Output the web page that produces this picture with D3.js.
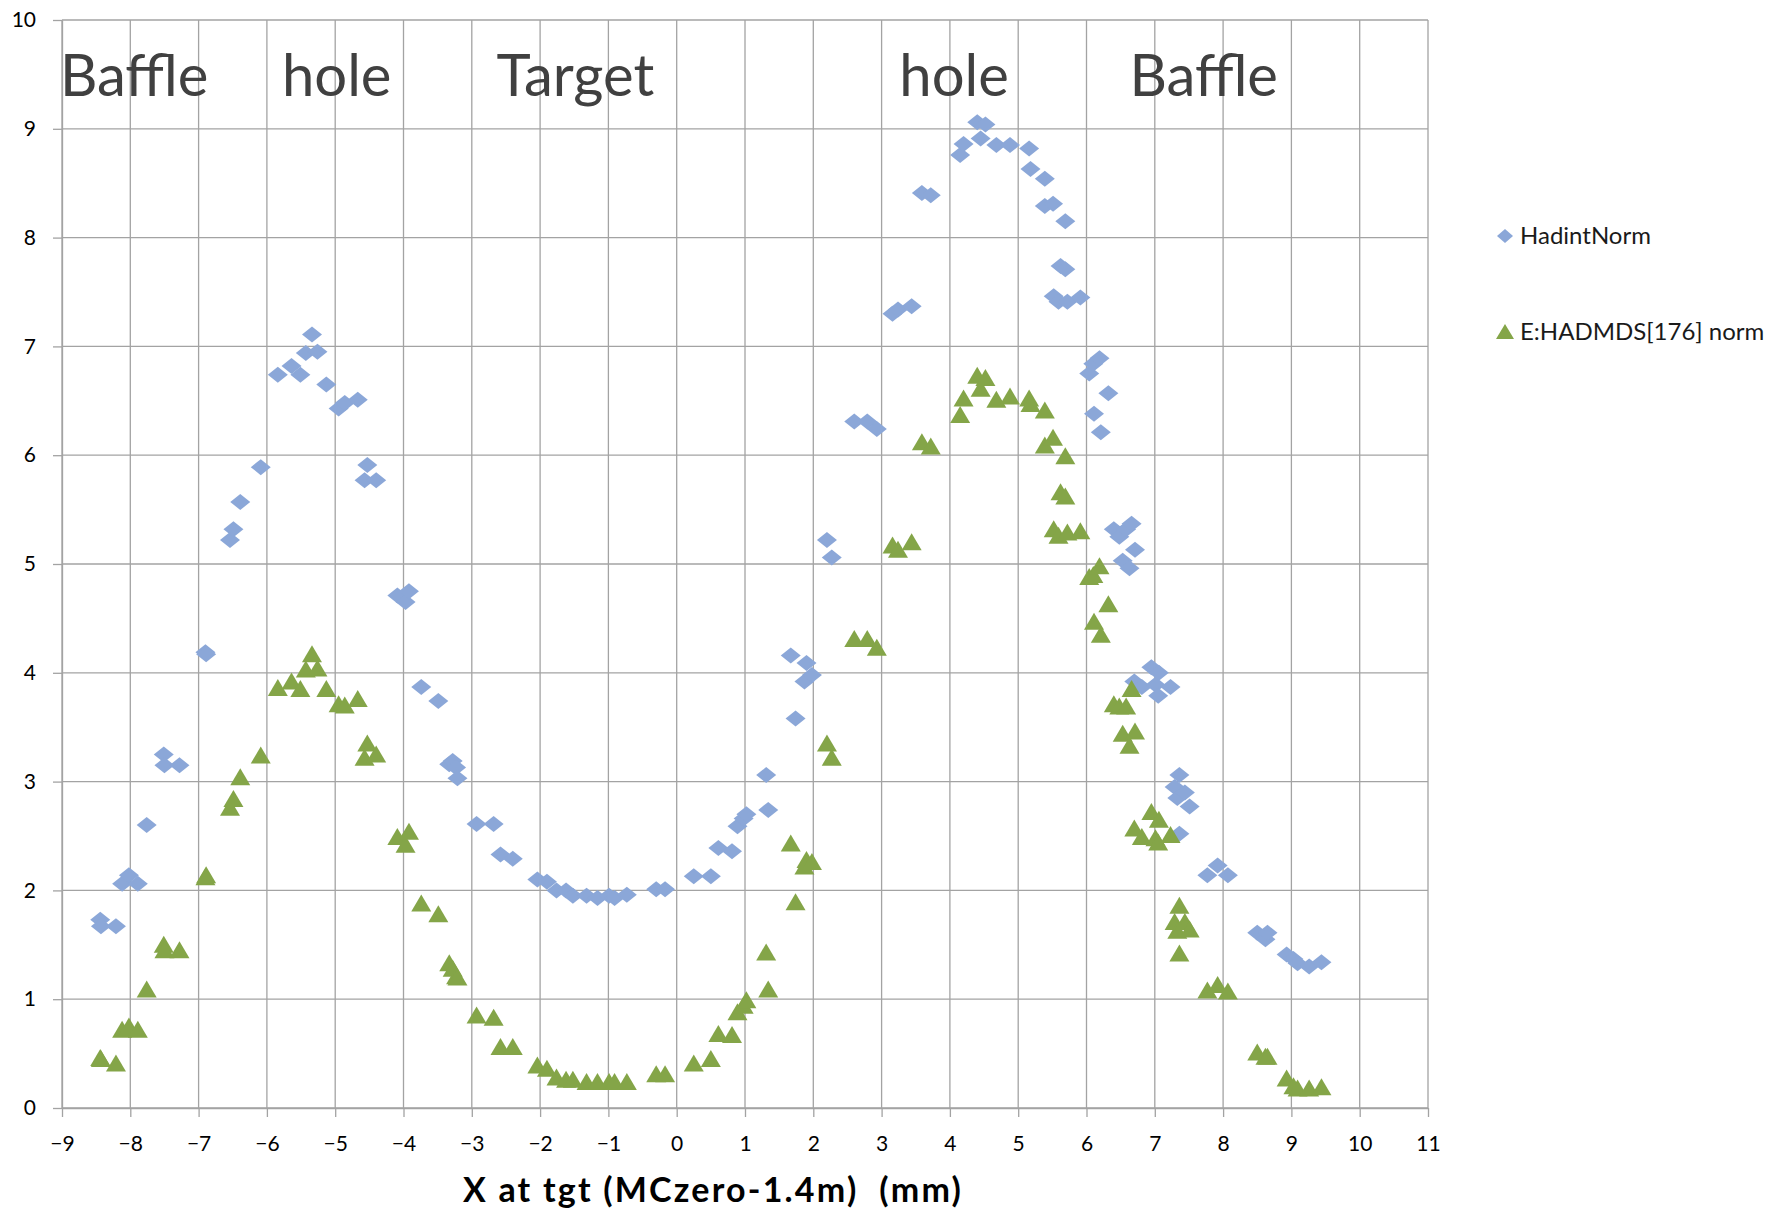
<!DOCTYPE html>
<html>
<head>
<meta charset="utf-8">
<script src="https://cdn.jsdelivr.net/npm/d3@7"></script>
<style>
  body { margin: 0; background: #fff; }
  svg { display: block; font-family: Lato, "Noto Sans", sans-serif; }
</style>
</head>
<body>
<svg id="chart"></svg>
<script>
// x position of each scan point (mm), shared by both series
const xPos = [
  -8.44, -8.43, -8.21, -8.12, -8.02, -7.89, -7.76, -7.51, -7.50, -7.28,
  -6.90, -6.89, -6.54, -6.49, -6.39, -6.09, -5.84, -5.64, -5.51, -5.43,
  -5.34, -5.26, -5.13, -4.95, -4.86, -4.67, -4.53, -4.57, -4.40, -4.09,
  -3.97, -3.92, -3.74, -3.49, -3.33, -3.28, -3.23, -3.21, -2.93, -2.68,
  -2.58, -2.40, -2.04, -1.90, -1.76, -1.62, -1.52, -1.32, -1.16, -0.99,
  -0.91, -0.73, -0.30, -0.17, 0.25, 0.50, 0.61, 0.81, 0.89, 0.98,
  1.02, 1.31, 1.34, 1.67, 1.74, 1.87, 1.90, 1.98, 2.20, 2.27,
  2.60, 2.79, 2.93, 3.16, 3.24, 3.44, 3.59, 3.72, 4.15, 4.20,
  4.40, 4.45, 4.52, 4.68, 4.88, 5.16, 5.18, 5.39, 5.39, 5.51,
  5.69, 5.52, 5.59, 5.62, 5.69, 5.72, 5.91, 6.04, 6.10, 6.19,
  6.11, 6.21, 6.32, 6.40, 6.48, 6.53, 6.58, 6.66, 6.63, 6.71,
  6.70, 6.81, 6.95, 7.01, 7.06, 7.05, 7.23, 7.36, 7.29, 7.33,
  7.36, 7.44, 7.51, 7.77, 7.92, 8.07, 8.50, 8.62, 8.65, 8.93,
  9.03, 9.09, 9.26, 9.44
]

const hadintNorm = [
  1.73, 1.67, 1.67, 2.06, 2.14, 2.06, 2.60, 3.25, 3.15, 3.15,
  4.19, 4.17, 5.22, 5.32, 5.57, 5.89, 6.74, 6.82, 6.74, 6.94,
  7.11, 6.95, 6.65, 6.43, 6.48, 6.51, 5.91, 5.77, 5.77, 4.71,
  4.65, 4.75, 3.87, 3.74, 3.16, 3.19, 3.13, 3.03, 2.61, 2.61,
  2.33, 2.29, 2.10, 2.08, 2.00, 2.00, 1.95, 1.95, 1.93, 1.95,
  1.93, 1.96, 2.01, 2.01, 2.13, 2.13, 2.39, 2.36, 2.59, 2.66,
  2.70, 3.06, 2.74, 4.16, 3.58, 3.92, 4.09, 3.98, 5.22, 5.06,
  6.31, 6.31, 6.24, 7.30, 7.34, 7.37, 8.41, 8.39, 8.76, 8.86,
  9.06, 8.91, 9.04, 8.85, 8.85, 8.82, 8.63, 8.54, 8.29, 8.31,
  8.15, 7.46, 7.41, 7.74, 7.71, 7.41, 7.45, 6.75, 6.84, 6.89,
  6.38, 6.21, 6.57, 5.32, 5.25, 5.03, 5.32, 5.37, 4.96, 5.13,
  3.92, 3.87, 4.05, 3.89, 4.00, 3.79, 3.87, 3.06, 2.95, 2.85,
  2.52, 2.90, 2.77, 2.14, 2.23, 2.14, 1.61, 1.55, 1.61, 1.41,
  1.37, 1.33, 1.30, 1.34
]

const hadmdsNorm = [
  0.46, 0.45, 0.41, 0.72, 0.75, 0.72, 1.09, 1.50, 1.45, 1.45,
  2.12, 2.14, 2.76, 2.84, 3.04, 3.24, 3.86, 3.92, 3.85, 4.03,
  4.17, 4.04, 3.85, 3.71, 3.70, 3.76, 3.35, 3.22, 3.25, 2.49,
  2.42, 2.54, 1.88, 1.78, 1.33, 1.28, 1.21, 1.20, 0.85, 0.83,
  0.56, 0.56, 0.39, 0.36, 0.28, 0.26, 0.26, 0.24, 0.24, 0.24,
  0.24, 0.24, 0.31, 0.31, 0.41, 0.45, 0.68, 0.67, 0.88, 0.94,
  0.99, 1.43, 1.09, 2.43, 1.89, 2.22, 2.28, 2.26, 3.35, 3.22,
  4.31, 4.31, 4.23, 5.17, 5.13, 5.20, 6.12, 6.08, 6.37, 6.52,
  6.73, 6.61, 6.71, 6.51, 6.54, 6.52, 6.47, 6.41, 6.09, 6.16,
  5.99, 5.32, 5.26, 5.66, 5.62, 5.29, 5.30, 4.88, 4.90, 4.98,
  4.47, 4.35, 4.63, 3.71, 3.69, 3.44, 3.69, 3.85, 3.33, 3.46,
  2.57, 2.49, 2.72, 2.48, 2.65, 2.44, 2.51, 1.86, 1.71, 1.63,
  1.42, 1.71, 1.64, 1.08, 1.13, 1.07, 0.51, 0.47, 0.47, 0.27,
  0.20, 0.18, 0.18, 0.19
]

const xTicks = d3.range(-9, 12)
const yTicks = d3.range(0, 11)

// region labels written across the top of the plot
const regionNames = ["Baffle", "hole", "Target", "hole", "Baffle"]
const regionStartX = [-9.03, -5.78, -2.64, 3.26, 6.63]
const regionY = 9.3

const seriesNames = ["HadintNorm", "E:HADMDS[176] norm"]
const xTitle = "X at tgt (MCzero-1.4m)  (mm)"

const W = 1768, H = 1211
const margin = {top: 20, right: 340, bottom: 103, left: 62}
const blue = "#8ba7d8", green = "#84a548", grid = "#a3a3a3"

const svg = d3.select("#chart").attr("width", W).attr("height", H)
svg.append("rect").attr("width", W).attr("height", H).attr("fill", "#fff")

const x = d3.scaleLinear().domain([-9, 11]).range([margin.left, W - margin.right])
const y = d3.scaleLinear().domain([0, 10]).range([H - margin.bottom, margin.top])

// grid lines
svg.append("g")
    .selectAll("line.v")
    .data(xTicks)
    .join("line")
      .attr("x1", d => x(d)).attr("x2", d => x(d))
      .attr("y1", y(10)).attr("y2", y(0))
      .attr("stroke", grid).attr("stroke-width", 1.3)
svg.append("g")
    .selectAll("line.h")
    .data(yTicks)
    .join("line")
      .attr("x1", x(-9)).attr("x2", x(11))
      .attr("y1", d => y(d)).attr("y2", d => y(d))
      .attr("stroke", grid).attr("stroke-width", 1.3)

// axes
const xAxis = svg.append("g")
    .attr("transform", `translate(0,${y(0)})`)
    .call(d3.axisBottom(x).tickValues(xTicks).tickSize(9).tickSizeOuter(0).tickPadding(19))
const yAxis = svg.append("g")
    .attr("transform", `translate(${x(-9)},0)`)
    .call(d3.axisLeft(y).tickValues(yTicks).tickSize(9).tickSizeOuter(0).tickPadding(17))

for (const ax of [xAxis, yAxis]) {
    ax.select(".domain").attr("stroke", grid).attr("stroke-width", 1.3)
    ax.selectAll(".tick line").attr("stroke", grid).attr("stroke-width", 1.3)
    ax.selectAll(".tick text")
        .attr("font-family", "Lato, sans-serif")
        .attr("font-size", 21)
        .attr("fill", "#000")
}

// region labels
svg.append("g")
    .selectAll("text")
    .data(regionNames)
    .join("text")
      .attr("x", (d, i) => x(regionStartX[i]))
      .attr("y", y(regionY))
      .attr("font-size", 58)
      .attr("fill", "#404040")
      .text(d => d)

// markers
const points = xPos.map((v, i) => ({x: v, a: hadintNorm[i], b: hadmdsNorm[i]}))

const diamond = "M0,-8 L10,0 L0,8 L-10,0 Z"
const triangle = "M0,-9 L10,8 L-10,8 Z"

svg.append("g")
    .selectAll("path")
    .data(points)
    .join("path")
      .attr("d", diamond)
      .attr("transform", d => `translate(${x(d.x)},${y(d.a)})`)
      .attr("fill", blue)

svg.append("g")
    .selectAll("path")
    .data(points)
    .join("path")
      .attr("d", triangle)
      .attr("transform", d => `translate(${x(d.x)},${y(d.b)})`)
      .attr("fill", green)

// x axis title
svg.append("text")
    .attr("x", 713)
    .attr("y", 1202)
    .attr("text-anchor", "middle")
    .attr("font-size", 34)
    .attr("font-weight", "bold")
    .attr("letter-spacing", 2.2)
    .attr("fill", "#000")
    .style("white-space", "pre")
    .text(xTitle)

// legend
const legend = svg.append("g").attr("transform", "translate(1505,0)")
const legendY = [236, 332]
legend.append("path").attr("d", "M0,-7 L8,0 L0,7 L-8,0 Z")
    .attr("transform", `translate(0,${legendY[0]})`).attr("fill", blue)
legend.append("path").attr("d", "M0,-8 L9,7 L-9,7 Z")
    .attr("transform", `translate(0,${legendY[1]})`).attr("fill", green)
legend.selectAll("text")
    .data(seriesNames)
    .join("text")
      .attr("x", 15)
      .attr("y", (d, i) => legendY[i] + 8)
      .attr("font-size", 24)
      .attr("fill", "#1a1a1a")
      .text(d => d)
</script>
</body>
</html>
